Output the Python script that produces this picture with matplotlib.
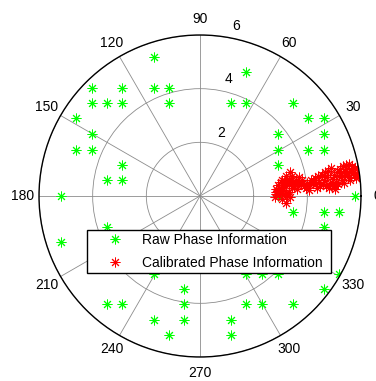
import numpy as np
import matplotlib
matplotlib.use('Agg')
import matplotlib.pyplot as plt

# raw phase points (cartesian)
raw_x = [-1.73, 1.73,
         -4.04, -2.89, -1.73, -1.15,
         -4.04, -3.46, -2.89, -1.15, 1.15, 1.73, 3.46,
         -4.62, 4.04, 4.62,
         -4.04, 2.89, 4.62,
         -4.62, -4.04, 2.89, 4.04, 4.62,
         -2.89, 2.89,
         -3.46, -2.89,
         -5.19, 2.89, 5.77,
         3.46, 4.62, 5.19,
         -3.46, 4.62,
         -5.19,
         -1.73, 1.73, 2.31, 2.89, 5.19,
         -0.58, 4.62,
         -3.46, -2.89, -0.58, 1.73, 2.31, 3.46,
         -1.73, -0.58, 1.15,
         -1.15, 1.15]
raw_y = [5.19, 4.62,
         4.04, 4.04, 4.04, 4.04,
         3.46, 3.46, 3.46, 3.46, 3.46, 3.46, 3.46,
         2.89, 2.89, 2.89,
         2.31, 2.31, 2.31,
         1.73, 1.73, 1.73, 1.73, 1.73,
         1.15, 1.15,
         0.58, 0.58,
         0.0, 0.0, 0.0,
         -0.58, -0.58, -0.58,
         -1.15, -1.15,
         -1.73,
         -2.89, -2.89, -2.89, -2.89, -2.89,
         -3.46, -3.46,
         -4.04, -4.04, -4.04, -4.04, -4.04, -4.04,
         -4.62, -4.62, -4.62,
         -5.19, -5.19]

# calibrated phase points (cartesian)
cal_x = [2.78, 2.85, 2.93, 3.04, 3.15, 3.26, 3.37, 3.44, 3.56, 3.67,
         2.96, 3.07, 3.19, 3.26, 3.33, 3.41, 3.52, 3.63, 3.11, 3.22,
         3.00, 3.30, 3.48, 3.19, 3.07, 2.89, 3.37, 3.15,
         3.78, 3.89, 4.00, 4.11, 4.22, 4.33, 4.44, 3.81, 3.96, 4.15,
         4.30, 4.41, 4.48, 4.07,
         4.56, 4.67, 4.78, 4.89, 5.00, 5.11, 5.22, 5.33, 5.44, 5.56,
         5.67, 5.78, 5.89, 6.00, 4.63, 4.74, 4.85, 4.96, 5.07, 5.19,
         5.30, 5.41, 5.52, 5.63, 5.74, 5.85, 4.70, 4.81, 4.93, 5.04,
         5.15, 5.37, 5.48, 5.59, 5.70, 5.81, 5.93, 4.59, 5.26, 5.41,
         2.82, 3.00, 3.22, 2.85, 3.30, 3.60, 3.70, 4.37, 5.04, 6.08]
cal_y = [-0.05, 0.14, 0.29, 0.40, 0.51, 0.62, 0.88, 0.73, 0.58, 0.47,
         0.03, -0.12, -0.27, -0.01, 0.14, 0.29, 0.36, 0.25, 0.21, 0.36,
         0.51, 0.47, 0.51, 0.73, 0.58, 0.40, -0.05, 0.06,
         0.43, 0.36, 0.47, 0.40, 0.51, 0.43, 0.54, 0.58, 0.29, 0.58,
         0.66, 0.73, 0.36, 0.21,
         0.77, 0.88, 0.95, 1.03, 0.80, 0.91, 0.99, 1.10, 1.17, 1.21,
         1.10, 1.03, 0.91, 0.80, 0.58, 0.69, 0.47, 0.62, 0.51, 0.73,
         0.58, 0.80, 0.69, 0.91, 0.77, 1.03, 0.36, 0.29, 0.40, 0.36,
         0.43, 0.47, 0.88, 0.58, 0.84, 0.66, 0.73, 0.43, 0.84, 0.95,
         0.25, 0.20, 0.10, 0.06, 0.60, 0.40, 0.70, 0.30, 0.25, 0.62]

angle_labels = [0, 30, 60, 90, 120, 150, 180, 210, 240, 270, 300, 330]
r_labels = ['2', '4', '6']

plt.rcParams['font.family'] = ['Liberation Sans', 'DejaVu Sans']

fig = plt.figure(figsize=(3.76, 3.81), dpi=100)
ax = fig.add_axes([39 / 376, 24 / 381, 322 / 376, 322 / 381], projection='polar')

raw_x = np.array(raw_x)
raw_y = np.array(raw_y)
cal_x = np.array(cal_x)
cal_y = np.array(cal_y)

ax.plot(np.arctan2(raw_y, raw_x), np.hypot(raw_x, raw_y), linestyle='none',
        marker=(8, 2, 0), markersize=7, color=(0, 1, 0), markeredgewidth=0.7,
        label='Raw Phase Information')
ax.plot(np.arctan2(cal_y, cal_x), np.hypot(cal_x, cal_y), linestyle='none',
        marker=(8, 2, 0), markersize=7, color=(1, 0, 0), markeredgewidth=0.7,
        label='Calibrated Phase Information')

ax.set_ylim(0, 6)
ax.set_yticks([2, 4, 6])
ax.set_yticklabels([])
ax.set_xticks(np.deg2rad(angle_labels))
ax.set_xticklabels([])
ax.grid(True, color='0.55', linewidth=0.6)
ax.spines['polar'].set_color('black')
ax.spines['polar'].set_linewidth(1.0)

for a in angle_labels:
    ax.text(np.deg2rad(a), 6.6, str(a), ha='center', va='center',
            fontsize=10, clip_on=False)

r_pos = [(71.5, 2.46), (76.4, 4.47), (78.0, 6.46)]
for lab, (a, r) in zip(r_labels, r_pos):
    ax.text(np.deg2rad(a), r, lab, ha='center', va='center', fontsize=10,
            clip_on=False)

leg = ax.legend(loc='center', bbox_to_anchor=(87 / 376, 107 / 381, 244 / 376, 45 / 381),
                bbox_transform=fig.transFigure, mode='expand', numpoints=1,
                fancybox=False, framealpha=1, edgecolor='black', fontsize=10,
                borderaxespad=0, handlelength=3.6, handletextpad=0.1,
                labelspacing=0.6, borderpad=0.25)
leg.get_frame().set_linewidth(1.0)
leg.set_zorder(10)

fig.savefig('out.png', dpi=100)
